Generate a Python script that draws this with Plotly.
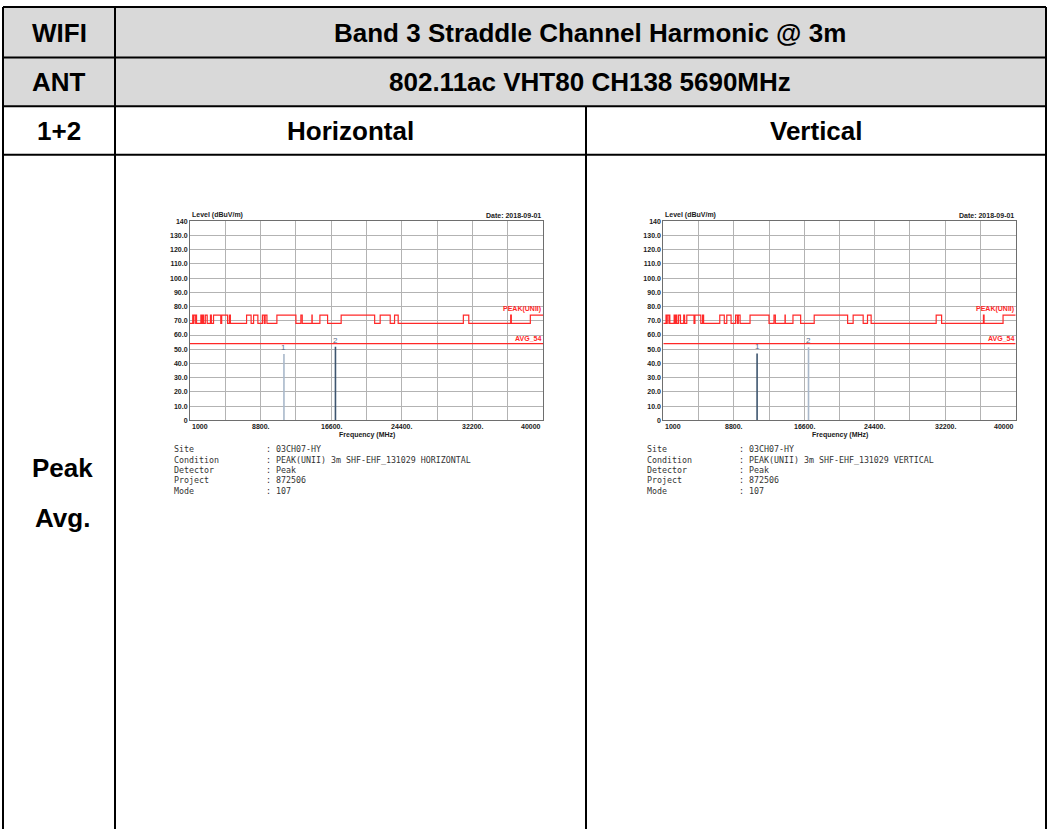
import plotly.graph_objects as go

W, H = 1049, 829

# restricted bands (MHz) - the peak limit line steps up to 74 inside these
band_lo = [1300, 1435, 1645.5, 1660, 1718.8, 2200, 2310, 2483.5, 2690, 3260, 3332, 3345.8,
           3600, 4500, 5350, 7250, 8025, 9000, 9300, 10600, 13250, 14470, 15350, 17700,
           22010, 23600, 31200, 36430, 38600]
band_hi = [1427, 1626.5, 1646.5, 1710, 1722.2, 2300, 2390, 2500, 2900, 3267, 3339, 3358,
           4400, 5150, 5460, 7750, 8500, 9200, 9500, 12700, 13400, 14500, 16200, 21400,
           23120, 24000, 31800, 36500, 40000]
peak_high = 74.0
peak_low = 68.2
avg_limit = 54.0
f_start, f_stop = 1000, 40000

marker_freq = [11380, 17070]
level_h = [46.7, 51.7]
level_v = [47.1, 51.5]

x_tickvals = [1000, 8800, 16600, 24400, 32200, 40000]
x_ticktext = ['1000', '8800.', '16600.', '24400.', '32200.', '40000']
y_tickvals = list(range(0, 150, 10))
y_ticktext = ['0'] + [f'{v}.0' for v in range(10, 140, 10)] + ['140']

info_labels = ['Site', 'Condition', 'Detector', 'Project', 'Mode']
info_h = ['03CH07-HY', 'PEAK(UNII) 3m SHF-EHF_131029 HORIZONTAL', 'Peak', '872506', '107']
info_v = ['03CH07-HY', 'PEAK(UNII) 3m SHF-EHF_131029 VERTICAL', 'Peak', '872506', '107']

header_rows = [('WIFI', 'Band 3 Straddle Channel Harmonic @ 3m'),
               ('ANT', '802.11ac VHT80 CH138 5690MHz')]
col_heads = ['1+2', 'Horizontal', 'Vertical']
row_label = ['Peak', 'Avg.']

DARK = '#3d556f'
LIGHT = '#a9b8ca'
RED = 'rgb(255,40,40)'


def px(x): return x / W
def py(y): return 1 - y / H


fig = go.Figure()
ann = []
shapes = []

# ---- table ----
T_L, T_R, T_TOP = 3, 1046, 3
C1, C2 = 115, 586
R1, R2, R3 = 54, 103, 152
shapes.append(dict(type='rect', xref='paper', yref='paper', x0=px(T_L), x1=px(T_R),
                   y0=py(R2), y1=py(T_TOP), fillcolor='#d9d9d9', line_width=0, layer='below'))
for y in (T_TOP, R1, R2, R3):
  shapes.append(dict(type='line', xref='paper', yref='paper', x0=px(T_L), x1=px(T_R),
                     y0=py(y), y1=py(y), line=dict(color='black', width=2)))
for x, ytop in ((T_L, T_TOP), (C1, T_TOP), (C2, R2), (T_R, T_TOP)):
  shapes.append(dict(type='line', xref='paper', yref='paper', x0=px(x), x1=px(x),
                     y0=py(ytop), y1=py(H + 5), line=dict(color='black', width=2)))

tfont = dict(family='Liberation Sans, Arial', size=26, color='black')
for (a, b), yc in zip(header_rows, (29, 79)):
  ann.append(dict(text=f'<b>{a}</b>', x=px((T_L + C1) / 2), y=py(yc), font=tfont))
  ann.append(dict(text=f'<b>{b}</b>', x=px(590), y=py(yc), font=tfont))
for t, xc in zip(col_heads, ((T_L + C1) / 2, (C1 + C2) / 2, (C2 + T_R) / 2)):
  ann.append(dict(text=f'<b>{t}</b>', x=px(xc), y=py(128), font=tfont))
for t, yc in zip(row_label, (468, 518)):
  ann.append(dict(text=f'<b>{t}</b>', x=px(62), y=py(yc), font=tfont))

# ---- peak limit step line ----
step_x = [f_start]
step_y = [peak_low]
for lo, hi in zip(band_lo, band_hi):
  step_x += [lo, hi]
  step_y += [peak_high, peak_low]
step_y[-1] = peak_high

sfont = dict(family='Liberation Sans, Arial', size=7, color='#1a1a1a')
mono = dict(family='DejaVu Sans Mono, monospace', size=8.3, color='#333333')


def add_chart(n, x0, x1, levels, colors, info_vals):
  xa = 'x' if n == 1 else 'x2'
  ya = 'y' if n == 1 else 'y2'
  fig.add_trace(go.Scatter(x=step_x, y=step_y, mode='lines', line=dict(color=RED, width=1.2, shape='hv'),
                           xaxis=xa, yaxis=ya, hoverinfo='skip'))
  fig.add_trace(go.Scatter(x=[f_start, f_stop], y=[avg_limit, avg_limit], mode='lines',
                           line=dict(color=RED, width=1.2), xaxis=xa, yaxis=ya, hoverinfo='skip'))
  for i, (f, lv) in enumerate(zip(marker_freq, levels)):
    fig.add_trace(go.Scatter(x=[f, f], y=[0, lv], mode='lines', line=dict(color=colors[i], width=1.6),
                             xaxis=xa, yaxis=ya, hoverinfo='skip'))
    ann.append(dict(text=str(i + 1), x=f, y=lv, xref=xa, yref=ya, yanchor='bottom',
                    font=dict(family='Liberation Sans, Arial', size=8, color='#5a6e85')))
  lab = dict(family='Liberation Sans, Arial', size=7, color=RED)
  ann.append(dict(text='<b>PEAK(UNII)</b>', x=f_stop, y=peak_high, xref=xa, yref=ya,
                  xanchor='right', yanchor='bottom', font=lab))
  ann.append(dict(text='<b>AVG_54</b>', x=f_stop, y=avg_limit, xref=xa, yref=ya,
                  xanchor='right', yanchor='bottom', font=lab))
  ann.append(dict(text='<b>Level (dBuV/m)</b>', x=px(x0), y=py(213), xanchor='left', font=sfont))
  ann.append(dict(text='<b>Date: 2018-09-01</b>', x=px(x1), y=py(213), xanchor='right', font=sfont))
  for j, (v, t) in enumerate(zip(x_tickvals, x_ticktext)):
    anchor = 'left' if j == 0 else ('right' if j == len(x_tickvals) - 1 else 'center')
    ann.append(dict(text=f'<b>{t}</b>', x=v, y=py(425.7), xref=xa, yref='paper',
                    xanchor=anchor, font=sfont))
  ann.append(dict(text='<b>Frequency (MHz)</b>', x=px((x0 + x1) / 2), y=py(434.5), font=sfont))
  for k, (l, v) in enumerate(zip(info_labels, info_vals)):
    yy = py(449 + 10.45 * k)
    ann.append(dict(text=l, x=px(x0 - 18), y=yy, xanchor='left', font=mono))
    ann.append(dict(text=': ' + v, x=px(x0 + 74), y=yy, xanchor='left', font=mono))


PLOT_TOP, PLOT_BOT = 219, 420
LX0, LX1 = 190, 543
RX0, RX1 = 663.3, 1015.7
add_chart(1, LX0, LX1, level_h, [LIGHT, DARK], info_h)
add_chart(2, RX0, RX1, level_v, [DARK, LIGHT], info_v)

for a in ann:
  a.setdefault('xref', 'paper')
  a.setdefault('yref', 'paper')
  a.setdefault('xanchor', 'center')
  a.setdefault('yanchor', 'middle')
  a['showarrow'] = False

xax = dict(range=[f_start, f_stop], tick0=f_start, dtick=3900, showticklabels=False,
           showgrid=True, gridcolor='#b3b3b3', gridwidth=1, zeroline=False,
           showline=True, mirror=True, linecolor='#6e6e6e', linewidth=1, ticks='')
yax = dict(range=[0, 140], tickvals=y_tickvals, ticktext=[f'<b>{t}</b>' for t in y_ticktext],
           showgrid=True, gridcolor='#b3b3b3', gridwidth=1, zeroline=False,
           showline=True, mirror=True, linecolor='#6e6e6e', linewidth=1, ticks='',
           tickfont=dict(family='Liberation Sans, Arial', size=7, color='#1a1a1a'))

fig.update_layout(
  width=W, height=H, margin=dict(l=0, r=0, t=0, b=0),
  paper_bgcolor='white', plot_bgcolor='white', showlegend=False,
  xaxis=dict(xax, domain=[px(LX0), px(LX1)], anchor='y'),
  yaxis=dict(yax, domain=[py(PLOT_BOT), py(PLOT_TOP)], anchor='x'),
  xaxis2=dict(xax, domain=[px(RX0), px(RX1)], anchor='y2'),
  yaxis2=dict(yax, domain=[py(PLOT_BOT), py(PLOT_TOP)], anchor='x2'),
  annotations=ann, shapes=shapes,
)

# drop the browser's default 8px body margin so the figure sits at the page corner
fig.write_html("out.html", config={'displayModeBar': False},
               post_script="document.body.style.margin='0px';")
